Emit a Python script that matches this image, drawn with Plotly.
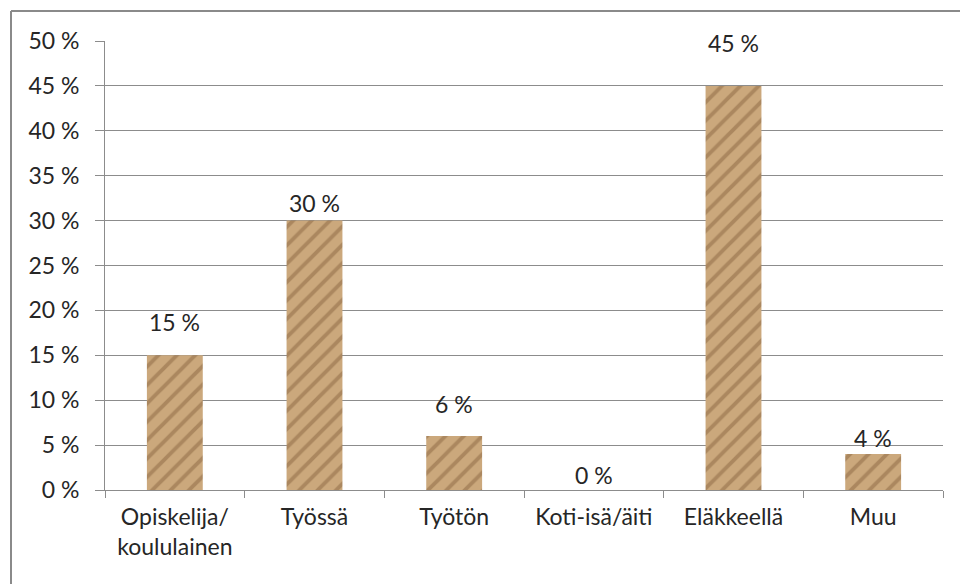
import plotly.graph_objects as go

# Survey answers: share of respondents by life situation
categories = ["Opiskelija/<br>koululainen", "Työssä", "Työtön", "Koti-isä/äiti", "Eläkkeellä", "Muu"]
shares = [0.15, 0.30, 0.06, 0.00, 0.45, 0.04]
tick_values = [0, 0.05, 0.10, 0.15, 0.20, 0.25, 0.30, 0.35, 0.40, 0.45, 0.50]
tick_labels = ["0 %", "5 %", "10 %", "15 %", "20 %", "25 %", "30 %", "35 %", "40 %", "45 %", "50 %"]

# Vertical offset (px) of each value label above its bar top
label_gaps = [17, 2, 16, -1, 27, 0]

FONT = "Lato, 'Open Sans', sans-serif"
GRID = "#8c8c8c"
TEXT = "#262626"
SIZE = 23

fig = go.Figure(
    go.Bar(
        x=categories,
        y=shares,
        width=0.4,
        marker=dict(
            color="#c8a578",
            line=dict(width=0),
            pattern=dict(
                shape="/",
                bgcolor="#cba87c",
                fgcolor="#6e4a26",
                fgopacity=0.35,
                size=13,
                solidity=0.3,
            ),
        ),
        hoverinfo="skip",
    )
)

# Value labels above the bars
for cat, val, gap in zip(categories, shares, label_gaps):
    fig.add_annotation(
        x=cat, y=val, xref="x", yref="y",
        text=f"{round(val * 100)} %",
        showarrow=False,
        yanchor="bottom",
        yshift=gap,
        font=dict(family=FONT, size=SIZE, color=TEXT),
    )

frame_x = (11 - 105) / 838
frame_y = (490 - 11) / 449

fig.update_layout(
    width=960,
    height=584,
    margin=dict(l=105, r=17, t=41, b=94),
    paper_bgcolor="white",
    plot_bgcolor="white",
    showlegend=False,
    bargap=0.6,
    font=dict(family=FONT, size=SIZE, color=TEXT),
    shapes=[
        # chart frame (top and left edges visible)
        dict(type="line", xref="paper", yref="paper",
             x0=frame_x, x1=1.05, y0=frame_y, y1=frame_y,
             line=dict(color="#8a8a8a", width=2)),
        dict(type="line", xref="paper", yref="paper",
             x0=frame_x, x1=frame_x, y0=-0.3, y1=frame_y,
             line=dict(color="#8a8a8a", width=2)),
    ],
)

fig.update_yaxes(
    range=[0, 0.5],
    tickvals=tick_values,
    ticktext=tick_labels,
    showgrid=True,
    gridcolor=GRID,
    gridwidth=1,
    showline=True,
    linecolor=GRID,
    linewidth=1,
    ticks="outside",
    ticklen=9,
    tickcolor=GRID,
    ticklabelstandoff=11,
    zeroline=False,
    tickfont=dict(family=FONT, size=SIZE, color=TEXT),
)

fig.update_xaxes(
    showline=True,
    linecolor=GRID,
    linewidth=1,
    ticks="outside",
    tickson="boundaries",
    ticklen=7,
    tickcolor=GRID,
    showgrid=False,
    ticklabelstandoff=6,
    tickfont=dict(family=FONT, size=SIZE, color=TEXT),
)

fig.write_html("out.html")
